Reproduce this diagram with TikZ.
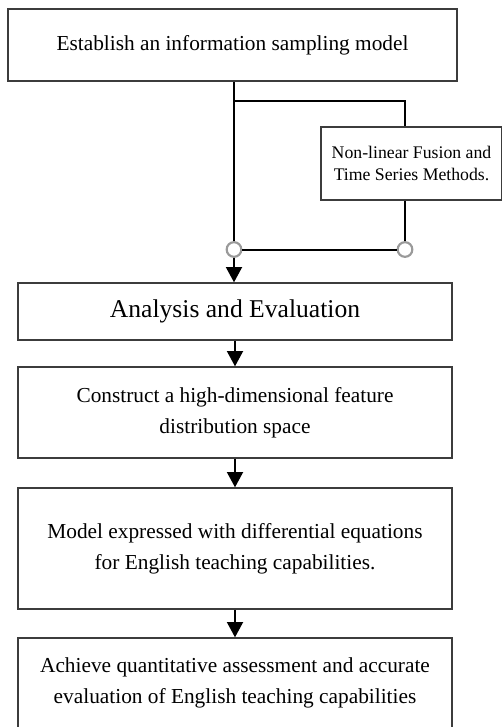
\documentclass[tikz,border=0pt]{standalone}
\usepackage{fontspec}
\setmainfont{Liberation Serif}
\usetikzlibrary{arrows.meta}
\definecolor{boxgray}{HTML}{3C3C3C}
\definecolor{jointgray}{HTML}{9A9A9A}
\begin{document}
\begin{tikzpicture}[x=0.75pt, y=0.75pt,
    font=\fontsize{16}{23}\selectfont,
    stepbox/.style={draw=boxgray, line width=1pt, align=center, inner sep=0pt},
    joint/.style={circle, draw=jointgray, fill=white, line width=1.6pt, minimum size=11pt, inner sep=0pt},
    link/.style={line width=1.5pt},
    flow/.style={link, -{Triangle[length=11.5pt, width=12pt]}}]
  \useasboundingbox (0,0) rectangle (501,-727);
  \node[stepbox, minimum width=336.75pt, minimum height=54pt] (sampling) at (232.5,-45) {Establish an information sampling model};
  \node[stepbox, minimum width=135.75pt, minimum height=54.75pt, font=\fontsize{13.3}{15.8}\selectfont] (fusion) at (411.5,-163.5) {Non-linear Fusion and\\Time Series Methods.};
  \node[stepbox, minimum width=325.5pt, minimum height=42.75pt, font=\fontsize{19.2}{23}\selectfont] (analysis) at (235,-311.5) {Analysis and Evaluation};
  \node[stepbox, minimum width=325.5pt, minimum height=68.25pt] (feature) at (235,-412.5) {Construct a high-dimensional feature\\distribution space};
  \node[stepbox, minimum width=325.5pt, minimum height=90.75pt] (model) at (235,-548.5) {Model expressed with differential equations\\for English teaching capabilities.};
  \node[stepbox, minimum width=325.5pt, minimum height=67.5pt] (assess) at (235,-683) {Achieve quantitative assessment and accurate\\evaluation of English teaching capabilities};
  % fork to the side branch and back
  \coordinate (fork) at (234,-101);
  \coordinate (bend) at (405,-101);
  \node[joint] (jl) at (234,-249.5) {};
  \node[joint] (jr) at (405,-249.5) {};
  \draw[link] (sampling.south -| fork) -- (jl);
  \draw[link] (fork) -- (bend) -- (fusion.north -| bend);
  \draw[link] (fusion.south -| jr) -- (jr);
  \draw[link] (jl) -- (jr);
  \draw[flow] (jl) -- (jl |- analysis.north);
  \draw[flow] (analysis) -- (feature);
  \draw[flow] (feature) -- (model);
  \draw[flow] (model) -- (assess);
\end{tikzpicture}
\end{document}
